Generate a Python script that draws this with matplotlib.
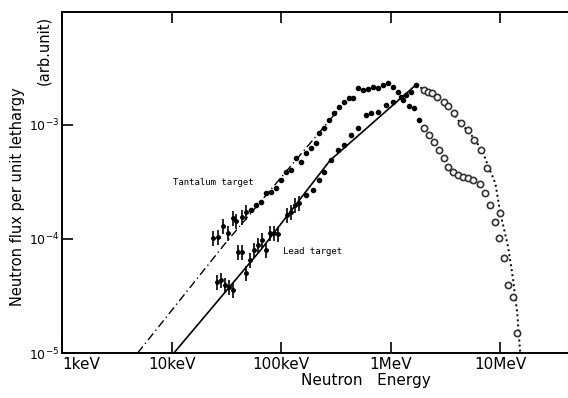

# neutron spectrum plot: lead vs tantalum target
import numpy as np
import matplotlib.pyplot as plt

# energies in keV, flux in arb. units per unit lethargy

# tantalum: calculated line (dash-dot)
ta_line_E = [4.9, 31.6, 351]
ta_line_flux = [1.0e-5, 9.4e-5, 1.44e-3]

# tantalum: low energy points with error bars
ta_err_E = [24.1, 26.7, 29.7, 33.0, 36.6, 39.0, 44.2, 48.1]
ta_err_flux = [1.02e-4, 1.04e-4, 1.30e-4, 1.13e-4, 1.53e-4, 1.44e-4, 1.56e-4, 1.73e-4]

# tantalum: filled dots
ta_dot_E = [53.4, 59.3, 65.8, 73.1, 81.1, 90.1, 100, 111, 123, 137, 152, 169, 187, 208,
            221, 246, 273, 303, 337, 374, 415, 452, 501, 556, 618, 686, 762, 846, 939,
            1043, 1158, 1285, 1458, 1618, 1797]
ta_dot_flux = [1.80e-4, 1.99e-4, 2.11e-4, 2.54e-4, 2.58e-4, 2.80e-4, 3.29e-4, 3.87e-4,
               4.03e-4, 5.14e-4, 4.73e-4, 5.68e-4, 6.28e-4, 6.95e-4, 8.51e-4, 9.42e-4,
               1.11e-3, 1.27e-3, 1.44e-3, 1.59e-3, 1.73e-3, 1.73e-3, 2.11e-3, 2.03e-3,
               2.07e-3, 2.15e-3, 2.11e-3, 2.25e-3, 2.34e-3, 2.15e-3, 1.95e-3, 1.66e-3,
               1.47e-3, 1.41e-3, 1.11e-3]

# tantalum: open circles (high energy)
ta_circ_E = [1995, 2215, 2460, 2730, 3034, 3367, 3741, 4150, 4613, 5117, 5689, 6577,
             7311, 8110, 9016, 9795, 10870, 11830, 14290]
ta_circ_flux = [9.42e-4, 8.17e-4, 7.09e-4, 6.04e-4, 5.14e-4, 4.29e-4, 3.87e-4, 3.64e-4,
                3.50e-4, 3.43e-4, 3.29e-4, 3.03e-4, 2.54e-4, 1.99e-4, 1.41e-4, 1.02e-4,
                6.81e-5, 3.94e-5, 1.50e-5]

# lead: calculated line (solid, then dotted above the peak)
pb_line_E = [10.5, 65, 280, 1700]
pb_line_flux = [1.0e-5, 8.0e-5, 4.9e-4, 2.25e-3]
pb_tail_E = [1700, 1900, 2450, 3000, 3750, 4300, 5000, 5900, 6900, 7800, 9000, 10000,
             11800, 13100, 14300, 15200]
pb_tail_flux = [2.25e-3, 2.11e-3, 1.83e-3, 1.59e-3, 1.27e-3, 1.04e-3, 9.0e-4, 7.4e-4,
                5.8e-4, 4.3e-4, 3.1e-4, 1.7e-4, 8.5e-5, 4.4e-5, 2.2e-5, 1.0e-5]

# lead: points with error bars
pb_err_E = [26.2, 28.5, 31.0, 33.7, 36.6, 40.6, 44.2, 48.1, 52.3, 56.9, 61.8, 67.2,
            73.1, 79.4, 86.3, 93.9, 113, 123, 134, 146]
pb_err_flux = [4.20e-5, 4.37e-5, 3.94e-5, 3.79e-5, 3.57e-5, 7.69e-5, 7.69e-5, 5.04e-5,
               6.55e-5, 8.01e-5, 8.85e-5, 9.80e-5, 8.01e-5, 1.13e-4, 1.13e-4, 1.11e-4,
               1.63e-4, 1.73e-4, 1.99e-4, 2.07e-4]

# lead: filled dots
pb_dot_E = [169, 195, 221, 246, 285, 330, 374, 433, 501, 593, 658, 762, 901, 1043,
            1233, 1368, 1520, 1687]
pb_dot_flux = [2.43e-4, 2.69e-4, 3.29e-4, 3.87e-4, 4.93e-4, 6.04e-4, 6.68e-4, 8.17e-4,
               9.42e-4, 1.22e-3, 1.27e-3, 1.30e-3, 1.50e-3, 1.59e-3, 1.76e-3, 1.83e-3,
               1.95e-3, 2.25e-3]

# lead: open circles (high energy)
pb_circ_E = [1995, 2170, 2360, 2620, 3034, 3367, 3820, 4420, 5117, 5800, 6720, 7620,
             10000, 13120]
pb_circ_flux = [2.03e-3, 1.95e-3, 1.91e-3, 1.76e-3, 1.59e-3, 1.47e-3, 1.27e-3, 1.04e-3,
                9.04e-4, 7.38e-4, 6.04e-4, 4.20e-4, 1.69e-4, 3.10e-5]

err_frac = 0.15

tick_E = [1, 10, 100, 1000, 10000]
tick_E_labels = ["1keV", "10keV", "100keV", "1MeV", "10MeV"]
tick_flux = [1e-5, 1e-4, 1e-3]
tick_flux_labels = ["$10^{-5}$", "$10^{-4}$", "$10^{-3}$"]

# set up figure
fig = plt.figure(figsize=(5.68, 3.98), dpi=100)
ax = fig.add_axes([62 / 568, 45 / 398, 506 / 568, 341 / 398])
ax.set_xscale("log")
ax.set_yscale("log")

# calculated curves
ax.plot(ta_line_E, ta_line_flux, color="black", lw=1.0, linestyle=(0, (6, 2.5, 1, 2.5)))
ax.plot(pb_line_E, pb_line_flux, color="black", lw=1.2)
ax.plot(pb_tail_E, pb_tail_flux, color="black", lw=1.4, linestyle=(0, (1, 1.6)))

# error bar points
for E, f in [(ta_err_E, ta_err_flux), (pb_err_E, pb_err_flux)]:
    f = np.array(f)
    ax.errorbar(E, f, yerr=[f * err_frac, f * err_frac], fmt="o", ms=2.5,
                color="black", ecolor="black", elinewidth=1.2, capsize=0)

# dots and circles
ax.plot(ta_dot_E, ta_dot_flux, "o", ms=3, color="black")
ax.plot(pb_dot_E, pb_dot_flux, "o", ms=3, color="black")
ax.plot(ta_circ_E, ta_circ_flux, "o", ms=4.5, mfc="white", mec="#333333", mew=1.2)
ax.plot(pb_circ_E, pb_circ_flux, "o", ms=4.5, mfc="white", mec="#333333", mew=1.2)

# labels inside plot
ax.text(24, 3.1e-4, "Tantalum target", fontsize=6.5, family="DejaVu Sans Mono",
        ha="center", va="center")
ax.text(195, 7.7e-5, "Lead target", fontsize=6.5, family="DejaVu Sans Mono",
        ha="center", va="center")

# axes
ax.set_xlim(1.04, 41500)
ax.set_ylim(1e-5, 9.8e-3)
ax.spines["right"].set_visible(False)
for s in ["left", "bottom", "top"]:
    ax.spines[s].set_linewidth(1.4)
ax.set_xticks(tick_E)
ax.set_xticklabels(tick_E_labels, fontsize=11)
ax.get_xticklabels()[0].set_horizontalalignment("left")
ax.set_yticks(tick_flux)
ax.set_yticklabels(tick_flux_labels, fontsize=9)
ax.minorticks_off()
ax.tick_params(axis="x", direction="in", length=8, width=1.2, top=True, pad=3)
ax.tick_params(axis="y", direction="in", length=8, width=1.2, pad=2)

ax.set_xlabel("Neutron   Energy", fontsize=11, labelpad=0)
ax.xaxis.set_label_coords(0.6, -0.06)
fig.text(18 / 568, 1 - 197 / 398, "Neutron flux per unit lethargy", rotation=90,
         fontsize=10.5, ha="center", va="center")
fig.text(44 / 568, 1 - 50 / 398, "(arb.unit)", rotation=90,
         fontsize=10.5, ha="center", va="center")

plt.savefig("out.png", dpi=100)
